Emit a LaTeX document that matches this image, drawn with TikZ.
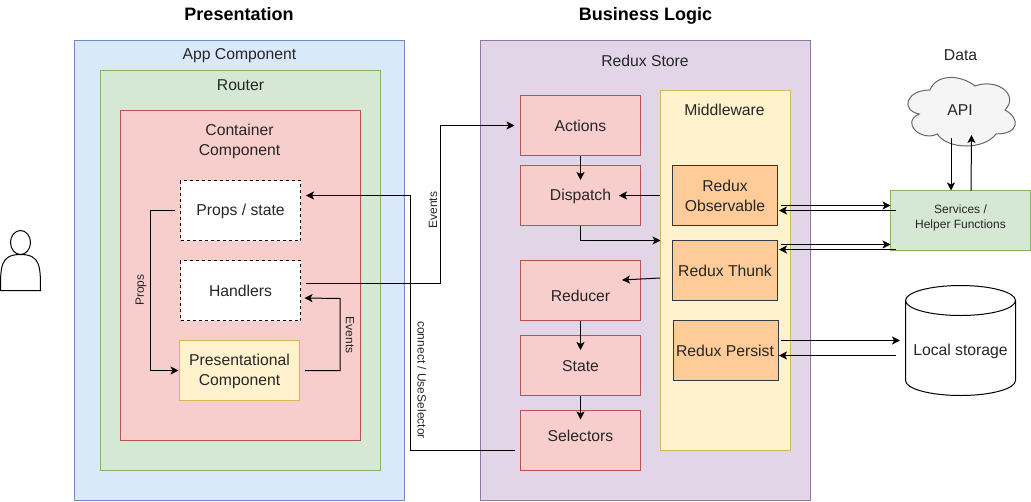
\documentclass[tikz,border=0pt]{standalone}
\usepackage{fontspec}
\setmainfont{Liberation Sans}
\usetikzlibrary{arrows.meta}
\definecolor{bluef}{HTML}{DAE8FC}\definecolor{blued}{HTML}{6C8EBF}
\definecolor{greenf}{HTML}{D5E8D4}\definecolor{greend}{HTML}{82B366}
\definecolor{redf}{HTML}{F8CECC}\definecolor{redd}{HTML}{B85450}
\definecolor{yelf}{HTML}{FFF2CC}\definecolor{yeld}{HTML}{D6B656}
\definecolor{purf}{HTML}{E1D5E7}\definecolor{purd}{HTML}{9673A6}
\definecolor{orgf}{HTML}{FFCC99}\definecolor{orgd}{HTML}{36393D}
\definecolor{grayf}{HTML}{F5F5F5}\definecolor{grayd}{HTML}{666666}
\tikzset{
  sz/.style 2 args={minimum width=#1*0.75pt,minimum height=#2*0.75pt,inner sep=0pt,outer sep=0pt},
  lbl/.style={font=\fontsize{11.8}{15}\selectfont,align=center,text=black!85,inner sep=0pt},
  small/.style={font=\fontsize{9}{11.25}\selectfont,align=center,text=black!85,inner sep=0pt},
  ttl/.style={font=\fontsize{13.5}{15}\selectfont\bfseries,inner sep=0pt},
  bluebox/.style={draw=blued,fill=bluef,line width=0.75pt},
  greenbox/.style={draw=greend,fill=greenf,line width=0.75pt},
  redbox/.style={draw=redd,fill=redf,line width=0.75pt,lbl},
  yelbox/.style={draw=yeld,fill=yelf,line width=0.75pt,lbl},
  purbox/.style={draw=purd,fill=purf,line width=0.75pt},
  orgbox/.style={draw=orgd,fill=orgf,line width=0.75pt,lbl},
  dashbox/.style={draw=black,fill=white,dashed,dash pattern=on 2.25pt off 2.25pt,line width=0.75pt,lbl},
  conn/.style={draw=black,line width=0.75pt,-{Stealth[length=6pt,width=6pt,inset=1.5pt]}},
}
\begin{document}
\begin{tikzpicture}[x=0.75pt,y=-0.75pt]
\useasboundingbox (0,0) rectangle (1031,501);
% titles
\node[ttl] (tpres) at (239,14) {Presentation};
\node[ttl] (tbiz) at (645.5,15.5) {Business Logic};
\node[lbl] (tdata) at (960.5,55.5) {Data};
% person
\draw[line width=0.75pt,fill=white] (20.5,242.5) ellipse [x radius=10,y radius=12];
\draw[line width=0.75pt,fill=white] (0.5,290.5) .. controls (0.5,266.5) and (0.5,254.5) .. (20.5,254.5) .. controls (40.5,254.5) and (40.5,266.5) .. (40.5,290.5) -- cycle;
% presentation
\node[bluebox,sz={330}{460}] (app) at (239.5,270.5) {};
\node[lbl] (appt) at (239.5,55.5) {App Component};
\node[greenbox,sz={280}{400}] (router) at (240.5,270.5) {};
\node[lbl] (routert) at (240.5,85.5) {Router};
\node[draw=redd,fill=redf,line width=0.75pt,sz={240}{330}] (cont) at (240.5,275.5) {};
\node[lbl] (contt) at (239.5,141) {Container\\Component};
\node[dashbox,sz={120}{60},label={[lbl,yshift=-0.75pt]center:Props / state}] (props) at (240.5,210.5) {};
\node[dashbox,sz={120}{60}] (handlers) at (240.5,290.5) {Handlers};
\node[yelbox,sz={120}{60},label={[lbl,yshift=-0.75pt]center:Presentational\\Component}] (pres) at (239.5,370.5) {};
% store
\node[purbox,sz={330}{460}] (store) at (645.5,270.5) {};
\node[lbl] (storet) at (645,60.5) {Redux Store};
\node[redbox,sz={120}{60}] (actions) at (580.5,125.5) {Actions};
\node[redbox,sz={120}{60},label={[lbl,yshift=-0.75pt]center:Dispatch}] (dispatch) at (580.5,195.5) {};
\node[redbox,sz={120}{60},label={[lbl,yshift=-3.75pt]center:Reducer}] (reducer) at (580.5,290.5) {};
\node[redbox,sz={120}{60},label={[lbl,yshift=-0.4pt]center:State}] (state) at (580.5,365.5) {};
\node[redbox,sz={120}{60},label={[lbl,yshift=3.75pt]center:Selectors}] (sel) at (580.5,440.5) {};
\node[draw=yeld,fill=yelf,line width=0.75pt,sz={130}{360}] (mw) at (725.5,270.5) {};
\node[lbl] (mwt) at (724.5,110) {Middleware};
\node[orgbox,sz={105}{60}] (obs) at (725,195.5) {Redux\\Observable};
\node[orgbox,sz={105}{60}] (thunk) at (725,270.5) {Redux Thunk};
\node[orgbox,sz={105}{60},label={[lbl,xshift=-0.75pt]center:Redux Persist}] (persist) at (726,350.5) {};
% data
\draw[draw=grayd,fill=grayf,line width=0.75pt]
  (930,90) .. controls (906,90) and (900,110) .. (919.2,114)
  .. controls (900,122.8) and (921.6,142) .. (937.2,134)
  .. controls (948,150) and (984,150) .. (996,134)
  .. controls (1020,134) and (1020,118) .. (1005,110)
  .. controls (1020,94) and (996,78) .. (975,86)
  .. controls (960,74) and (936,74) .. (930,90) -- cycle;
\node[lbl,sz={120}{80}] (api) at (960,110) {API};
\node[greenbox,sz={140}{60},label={[small,yshift=2.25pt]center:Services /\\Helper Functions}] (srv) at (960.5,220.5) {};
\node[sz={110}{110}] (cyl) at (960.5,340.5) {};
\draw[line width=0.75pt,fill=white] (cyl.north west) ++(0,15) arc[start angle=180,end angle=0,x radius=55,y radius=-15] -- ++(0,80) arc[start angle=0,end angle=-180,x radius=55,y radius=-15] -- cycle;
\draw[line width=0.75pt] (cyl.north west) ++(0,15) arc[start angle=180,end angle=360,x radius=55,y radius=-15];
\node[lbl] (cylt) at (960.5,351) {Local storage};
% connectors presentation
\draw[conn] ([shift={(-6,0)}]props.west) -- ++(-24.5,0) |- ([shift={(-1,0)}]pres.west);
\node[small,rotate=90] (lprops) at (141,290) {Props};
\draw[conn] ([shift={(5.5,0)}]pres.east) -- ++(35,0) -- ++(0,-72) -- ([shift={(4,7.5)}]handlers.east);
\node[small,rotate=-90] (levents) at (350,335) {Events};
\draw[conn] ([shift={(5,-7.5)}]handlers.east) -- ++(135,0) |- ([shift={(-6,0)}]actions.west);
\node[small,rotate=90] (levents2) at (433,210) {Events};
\draw[conn] ([shift={(-5.5,10)}]sel.west) -- ++(-104.5,0) |- ([shift={(5.5,-15)}]props.east);
\node[small,rotate=-90] (lconn) at (422,380) {connect / UseSelector};
% connectors store
\draw[conn] (actions.south) -- ([shift={(0,14.5)}]dispatch.north);
\draw[conn] ([shift={(-12.5,0)}]obs.west) -- ([shift={(-21.5,0)}]dispatch.east);
\draw[conn] (dispatch.south) |- ([shift={(0,-30)}]mw.west);
\draw[conn] ([shift={(-12.5,7.5)}]thunk.west) -- ([shift={(-18.5,-10.5)}]reducer.east);
\draw[conn] (reducer.south) -- ([shift={(0,14.5)}]state.north);
\draw[conn] (state.south) -- ([shift={(0,9)}]sel.north);
% connectors data
\draw[conn] ([shift={(3.5,10)}]obs.east) -- ([shift={(0,-15)}]srv.west);
\draw[conn] ([shift={(5.5,-10)}]srv.west) -- ([shift={(1.5,15)}]obs.east);
\draw[conn] ([shift={(3.5,-26)}]thunk.east) -- ([shift={(0,24)}]srv.west);
\draw[conn] ([shift={(5.5,29)}]srv.west) -- ([shift={(1.5,-21)}]thunk.east);
\draw[conn] ([shift={(2,-10)}]persist.east) -- ([shift={(-5.5,0)}]cyl.west);
\draw[conn] ([shift={(-9.5,15)}]cyl.west) -- ([shift={(0.5,5)}]persist.east);
\draw[conn] ([shift={(-9,-12)}]api.south) -- ([shift={(-9.5,0)}]srv.north);
\draw[conn] ([shift={(10.5,0)}]srv.north) -- ([shift={(11.5,-15)}]api.south);
\end{tikzpicture}
\end{document}
